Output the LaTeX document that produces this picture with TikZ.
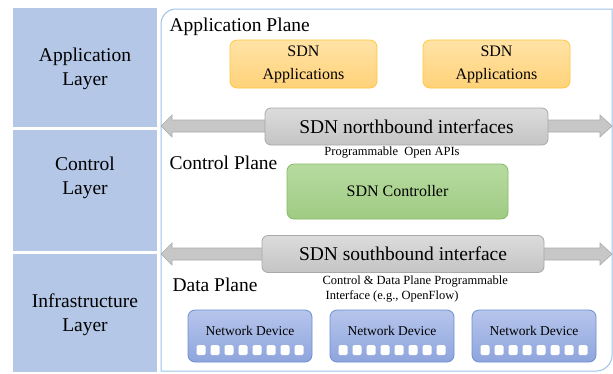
\documentclass[tikz,border=0pt]{standalone}
\usepackage{fontspec}
\setmainfont{LiberationSerif-Regular.ttf}
\usetikzlibrary{calc}
\definecolor{layerblue}{HTML}{B4C7E7}
\definecolor{paneledge}{HTML}{9DC3E6}
\definecolor{apptop}{HTML}{FFE3A6}
\definecolor{appbot}{HTML}{FFD279}
\definecolor{appedge}{HTML}{FFC83D}
\definecolor{ctltop}{HTML}{B7DBA0}
\definecolor{ctlbot}{HTML}{9FCB83}
\definecolor{ctledge}{HTML}{86BC63}
\definecolor{iftop}{HTML}{DCDCDC}
\definecolor{ifbot}{HTML}{C4C4C4}
\definecolor{ifedge}{HTML}{A8A8A8}
\definecolor{devtop}{HTML}{B6C5EC}
\definecolor{devbot}{HTML}{8EA5DC}
\definecolor{devedge}{HTML}{6F8ED3}
\def\duplexarrow(#1){\draw[duplex] (161,#1) -- (172,{#1-11}) -- (172,{#1-6}) -- (600,{#1-6}) -- (600,{#1-11}) -- (612,#1) -- (600,{#1+11}) -- (600,{#1+6}) -- (172,{#1+6}) -- (172,{#1+11}) -- cycle;}
\tikzset{
  layerbox/.style={fill=layerblue, minimum width=144pt, inner sep=0pt},
  bigtext/.style={font=\fontsize{19.5}{24}\selectfont, align=center},
  midtext/.style={font=\fontsize{16}{23}\selectfont, align=center},
  smalltext/.style={font=\fontsize{12.5}{15}\selectfont, align=left},
  appbox/.style={midtext, draw=appedge, line width=0.8pt, top color=apptop, bottom color=appbot, rounded corners=7pt, minimum width=147pt, minimum height=48pt},
  ctlbox/.style={draw=ctledge, line width=0.8pt, top color=ctltop, bottom color=ctlbot, rounded corners=7pt, minimum width=221pt, minimum height=55pt},
  ifbox/.style={bigtext, draw=ifedge, line width=0.8pt, top color=iftop, bottom color=ifbot, rounded corners=6pt, minimum height=37pt},
  devbox/.style={draw=devedge, line width=0.8pt, top color=devtop, bottom color=devbot, rounded corners=7pt, minimum width=124pt, minimum height=52pt},
  port/.style={fill=white, rounded corners=1.5pt, minimum width=9pt, minimum height=10pt, inner sep=0pt},
  duplex/.style={fill=black!22, draw=black!33, line width=0.6pt}
}
\begin{document}
\begin{tikzpicture}[x=1pt,y=-1pt]
	%%%%% START %%%%%
	\useasboundingbox (0,0) rectangle (613,373);
	\fill[white] (0,0) rectangle (613,373);
	
	%%%%% layers %%%%%
	\node[layerbox, minimum height=119pt] (applayer) at (85,67.5) {};
	\node[layerbox, minimum height=121pt] (ctllayer) at (85,190.5) {};
	\node[layerbox, minimum height=118pt] (inflayer) at (85,313) {};
	\node[bigtext] at ($(applayer.center)+(0,1.5)$) {Application\\Layer};
	\node[bigtext] at ($(ctllayer.center)+(0,-13)$) {Control\\Layer};
	\node[bigtext] at ($(inflayer.center)+(0,1.5)$) {Infrastructure\\Layer};
	
	%%%%% panel %%%%%
	\draw[paneledge, line width=1pt, fill=white] (161,371) -- (161,24) .. controls (161,15.7) and (167.7,9) .. (176,9) -- (612,9) -- (612,356) .. controls (612,364.3) and (603.7,371) .. (597,371) -- cycle;
	
	\node[bigtext, anchor=west] (applane) at (166,27) {Application Plane};
	\node[bigtext, anchor=west] (ctlplane) at (166,163) {Control Plane};
	\node[bigtext, anchor=west] (dataplane) at (169,285) {Data Plane};
	
	%%%%% application plane %%%%%
	\node[appbox] (app1) at (303.5,64) {SDN\\Applications};
	\node[appbox] (app2) at (496.5,64) {SDN\\Applications};
	
	%%%%% northbound %%%%%
	\duplexarrow(126)
	\node[ifbox, minimum width=283pt] (north) at (406.5,126.5) {SDN northbound interfaces};
	\node[smalltext] (apis) at (392,153) {Programmable\ \ Open APIs};
	
	%%%%% controller %%%%%
	\node[ctlbox, midtext] (ctl) at (397.5,191.5) {SDN Controller};
	
	%%%%% southbound %%%%%
	\duplexarrow(254)
	\node[ifbox, minimum width=282pt] (south) at (403,254) {SDN southbound interface};
	\node[smalltext, anchor=west] (ofnote) at (319,289.5) {Control \& Data Plane Programmable\\\ Interface (e.g., OpenFlow)};
	
	%%%%% devices %%%%%
	\node[devbox] (dev1) at (250,336) {};
	\node[devbox] (dev2) at (392,336) {};
	\node[devbox] (dev3) at (534,336) {};
	\foreach \d in {dev1,dev2,dev3}{
		\node[font=\fontsize{13.5}{15}\selectfont] at ($(\d.center)+(0,-5)$) {Network Device};
		\foreach \i in {0,...,7}
			\node[port] at ($(\d.center)+({-49+14*\i},14)$) {};
	}
	
	%%%%% END %%%%%
\end{tikzpicture}
\end{document}
